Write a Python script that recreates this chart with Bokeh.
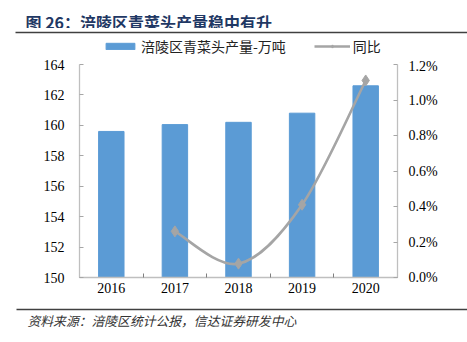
from bokeh.plotting import figure
from bokeh.layouts import column
from bokeh.models import (Range1d, LinearAxis, FixedTicker, PrintfTickFormatter,
                          Legend, LegendItem)
from bokeh.core.properties import value
from bokeh.embed import file_html
from bokeh.resources import INLINE

# ---- data ----
years = ["2016", "2017", "2018", "2019", "2020"]
production = [159.6, 160.05, 160.2, 160.8, 162.6]     # 万吨
yoy_years = ["2017", "2018", "2019", "2020"]
yoy_pct = [0.26, 0.078, 0.41, 1.11]                     # %
left_ticks = [150, 152, 154, 156, 158, 160, 162, 164]
right_ticks = [0.0, 0.2, 0.4, 0.6, 0.8, 1.0, 1.2]

title_text = "图 26：涪陵区青菜头产量稳中有升"
bar_name = "涪陵区青菜头产量-万吨"
line_name = "同比"
source_text = "资料来源：涪陵区统计公报，信达证券研发中心"

BLUE = "#5B9BD5"
GRAY = "#A5A5A5"
AXIS = "#BFBFBF"
SERIF = "Liberation Serif"
CJK = "Noto Sans CJK SC"
W = 467
TITLE_H, LEG_H, MAIN_H, FOOT_H = 28, 30, 244, 40

idx = list(range(len(years)))
yoy_idx = [years.index(y) for y in yoy_years]


def blank(height):
    # x/y in pixels, y measured upward from the bottom of this strip
    f = figure(width=W, height=height, output_backend="svg", toolbar_location=None,
               x_range=Range1d(0, W), y_range=Range1d(0, height),
               x_axis_type=None, y_axis_type=None, min_border=0,
               frame_align=False)
    f.outline_line_color = None
    f.xgrid.visible = False
    f.ygrid.visible = False
    f.background_fill_color = "white"
    f.border_fill_color = "white"
    return f


# ---- title strip ----
head = blank(TITLE_H)
head.text(x=[25], y=[TITLE_H - 21], text=[title_text], text_font=value(CJK),
          text_font_style="bold", text_font_size="16px", text_color="#1F3864",
          text_baseline="middle")

# ---- rule + legend strip ----
leg = blank(LEG_H)
leg.line(x=[15, W], y=[LEG_H - 4, LEG_H - 4], line_color="#404040", line_width=1.6)
lg_bar = leg.vbar(x=idx, top=production, width=0.4, fill_color=BLUE, line_color=BLUE,
                  visible=False)
lg_line = leg.line(x=yoy_idx, y=yoy_pct, line_color=GRAY, line_width=2.6, visible=False)
lg_pt = leg.scatter(x=yoy_idx, y=yoy_pct, marker="diamond", size=11,
                    fill_color=GRAY, line_color=GRAY, visible=False)
legend = Legend(items=[LegendItem(label=bar_name, renderers=[lg_bar]),
                       LegendItem(label=line_name, renderers=[lg_line, lg_pt])],
                orientation="horizontal", location=(102, 2),
                glyph_width=36, glyph_height=8, label_standoff=3, spacing=28,
                padding=0, margin=0, border_line_color=None,
                background_fill_alpha=0, click_policy="none",
                label_text_font=CJK, label_text_font_size="14px",
                label_text_color="#222222", label_height=18)
leg.add_layout(legend, "center")

# ---- main chart ----
p = figure(width=W, height=MAIN_H, output_backend="svg", toolbar_location=None,
           x_range=Range1d(-0.5, len(years) - 0.5),
           y_range=Range1d(left_ticks[0], left_ticks[-1]),
           min_border_left=79, min_border_right=70,
           min_border_top=6, min_border_bottom=25, frame_align=False)
p.outline_line_color = None
p.xgrid.visible = False
p.ygrid.visible = False
p.xaxis.visible = False
p.yaxis.visible = False
p.background_fill_color = "white"
p.border_fill_color = "white"
p.extra_y_ranges = {"pct": Range1d(right_ticks[0], right_ticks[-1])}


def style(ax):
    ax.axis_line_color = AXIS
    ax.axis_line_width = 1.3
    ax.major_tick_in = 4
    ax.major_tick_out = 0
    ax.major_tick_line_color = "#A6A6A6"
    ax.minor_tick_line_color = None
    ax.major_label_text_font = SERIF
    ax.major_label_text_font_size = "14px"
    ax.major_label_text_color = "#000000"


bottom = LinearAxis(ticker=FixedTicker(ticks=idx, minor_ticks=[i - 0.5 for i in range(len(years) + 1)]),
                    major_label_overrides={i: y for i, y in zip(idx, years)})
style(bottom)
bottom.major_tick_line_color = None
bottom.minor_tick_line_color = "#7F7F7F"
bottom.minor_tick_in = 4
bottom.minor_tick_out = 0
bottom.major_label_standoff = 5
p.add_layout(bottom, "below")

left = LinearAxis(ticker=FixedTicker(ticks=left_ticks))
style(left)
left.major_label_standoff = 15
p.add_layout(left, "left")

right = LinearAxis(y_range_name="pct", ticker=FixedTicker(ticks=right_ticks),
                   formatter=PrintfTickFormatter(format="%.1f%%"))
style(right)
right.major_label_standoff = 11
p.add_layout(right, "right")

p.vbar(x=idx, top=production, bottom=left_ticks[0], width=0.4,
       fill_color=BLUE, line_color=BLUE)

# smoothed line: Bezier control points derived from the data points
n = len(yoy_idx)
px = [float(v) for v in yoy_idx]
py = list(yoy_pct)
x0, y0, x1, y1, cx0, cy0, cx1, cy1 = [], [], [], [], [], [], [], []
for i in range(n - 1):
    im1 = max(i - 1, 0)
    ip2 = min(i + 2, n - 1)
    x0.append(px[i]); y0.append(py[i])
    x1.append(px[i + 1]); y1.append(py[i + 1])
    cx0.append(px[i] + (px[i + 1] - px[im1]) / 6.0)
    cy0.append(py[i] + (py[i + 1] - py[im1]) / 6.0)
    cx1.append(px[i + 1] - (px[ip2] - px[i]) / 6.0)
    cy1.append(py[i + 1] - (py[ip2] - py[i]) / 6.0)
p.bezier(x0=x0, y0=y0, x1=x1, y1=y1, cx0=cx0, cy0=cy0, cx1=cx1, cy1=cy1,
         line_color=GRAY, line_width=2.6, y_range_name="pct")
p.scatter(x=yoy_idx, y=yoy_pct, marker="diamond", size=11,
          fill_color=GRAY, line_color=GRAY, y_range_name="pct")

# ---- footer: rule, source ----
foot = blank(FOOT_H)
foot.line(x=[16, W], y=[FOOT_H - 7, FOOT_H - 7], line_color="#404040", line_width=1.4)
foot.text(x=[27], y=[FOOT_H - 18], text=[source_text], text_font=value(CJK),
          text_font_style="italic", text_font_size="12.8px", text_color="#333333",
          text_baseline="middle")

layout = column(head, leg, p, foot, spacing=0)
open("out.html", "w").write(file_html(layout, INLINE))
